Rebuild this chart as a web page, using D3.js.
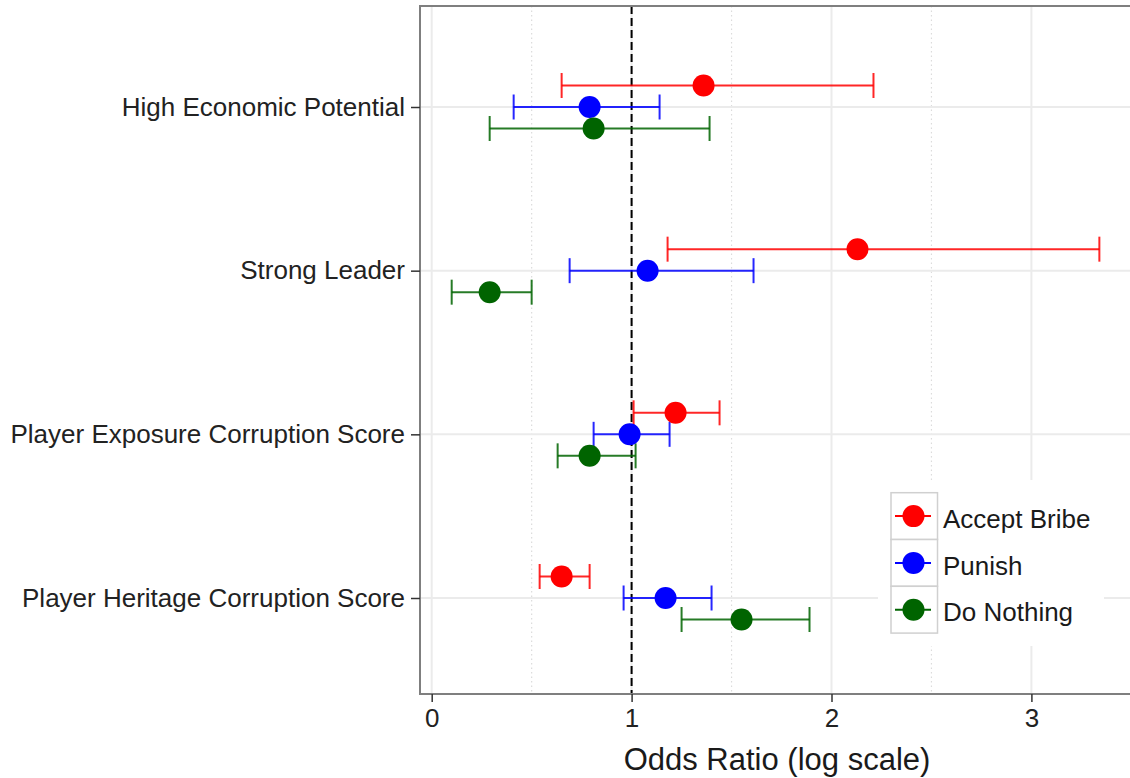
<!DOCTYPE html>
<html>
<head>
<meta charset="utf-8">
<script src="https://cdn.jsdelivr.net/npm/d3@7"></script>
<style>
  body { margin: 0; background: #fff; }
  text { font-family: "Liberation Sans", Arial, sans-serif; }
</style>
</head>
<body>
<svg width="1130" height="778"></svg>
<script>
// categories (top to bottom) and outcome series
const categories = ["High Economic Potential", "Strong Leader",
  "Player Exposure Corruption Score", "Player Heritage Corruption Score"];
const outcomes = ["Accept Bribe", "Punish", "Do Nothing"];
const outcomeColors = ["#ff0000", "#0000ff", "#006400"];

// odds ratios and confidence limits, one value per category
const acceptOR = [1.36, 2.13, 1.22, 0.65];
const acceptLo = [0.65, 1.18, 1.01, 0.54];
const acceptHi = [2.21, 3.34, 1.44, 0.79];

const punishOR = [0.79, 1.08, 0.99, 1.17];
const punishLo = [0.41, 0.69, 0.81, 0.96];
const punishHi = [1.14, 1.61, 1.19, 1.40];

const nothingOR = [0.81, 0.29, 0.79, 1.55];
const nothingLo = [0.29, 0.10, 0.63, 1.25];
const nothingHi = [1.39, 0.50, 1.02, 1.89];

const xTicks = [0, 1, 2, 3];
const xMinor = [0.5, 1.5, 2.5, 3.5];

// build rows
const series = [
  {name: outcomes[0], or: acceptOR, lo: acceptLo, hi: acceptHi},
  {name: outcomes[1], or: punishOR, lo: punishLo, hi: punishHi},
  {name: outcomes[2], or: nothingOR, lo: nothingLo, hi: nothingHi}
];
const rows = [];
series.forEach((s, si) => {
  categories.forEach((c, ci) => {
    rows.push({cat: c, outcome: s.name, idx: si, or: s.or[ci], lo: s.lo[ci], hi: s.hi[ci]});
  });
});

const svg = d3.select("svg");
const panel = {left: 420, top: 6, right: 1136, bottom: 694};

const x = d3.scaleLinear().domain([0, 3]).range([431.7, 1031.4]);
const y = d3.scalePoint().domain(categories).range([107, 598]);
const dodge = d3.scalePoint().domain(outcomes).range([-21.5, 21.5]);
const color = d3.scaleOrdinal().domain(outcomes).range(outcomeColors);

// panel background + grid
svg.append("rect")
  .attr("x", panel.left).attr("y", panel.top)
  .attr("width", panel.right - panel.left).attr("height", panel.bottom - panel.top)
  .attr("fill", "#fff");

svg.append("g").selectAll("line").data(xMinor).join("line")
  .attr("x1", d => x(d)).attr("x2", d => x(d))
  .attr("y1", panel.top).attr("y2", panel.bottom)
  .attr("stroke", "#dcdcdc").attr("stroke-width", 1.2)
  .attr("stroke-dasharray", "1.5,3");

svg.append("g").selectAll("line").data(xTicks).join("line")
  .attr("x1", d => x(d)).attr("x2", d => x(d))
  .attr("y1", panel.top).attr("y2", panel.bottom)
  .attr("stroke", "#ebebeb").attr("stroke-width", 2);

svg.append("g").selectAll("line").data(categories).join("line")
  .attr("x1", panel.left).attr("x2", panel.right)
  .attr("y1", d => y(d)).attr("y2", d => y(d))
  .attr("stroke", "#ebebeb").attr("stroke-width", 2);

// reference line at OR = 1
svg.append("line")
  .attr("x1", x(1)).attr("x2", x(1))
  .attr("y1", panel.top).attr("y2", panel.bottom)
  .attr("stroke", "#000").attr("stroke-width", 2)
  .attr("stroke-dasharray", "8,4");

// error bars
const bars = svg.append("g").selectAll("g").data(rows).join("g")
  .attr("stroke", d => color(d.outcome))
  .attr("stroke-width", 2)
  .attr("stroke-opacity", 0.85);
bars.append("line")
  .attr("x1", d => x(d.lo)).attr("x2", d => x(d.hi))
  .attr("y1", d => y(d.cat) + dodge(d.outcome))
  .attr("y2", d => y(d.cat) + dodge(d.outcome));
bars.append("line")
  .attr("x1", d => x(d.lo)).attr("x2", d => x(d.lo))
  .attr("y1", d => y(d.cat) + dodge(d.outcome) - 12.5)
  .attr("y2", d => y(d.cat) + dodge(d.outcome) + 12.5);
bars.append("line")
  .attr("x1", d => x(d.hi)).attr("x2", d => x(d.hi))
  .attr("y1", d => y(d.cat) + dodge(d.outcome) - 12.5)
  .attr("y2", d => y(d.cat) + dodge(d.outcome) + 12.5);

// points
svg.append("g").selectAll("circle").data(rows).join("circle")
  .attr("cx", d => x(d.or))
  .attr("cy", d => y(d.cat) + dodge(d.outcome))
  .attr("r", 11)
  .attr("fill", d => color(d.outcome));

// panel border
svg.append("rect")
  .attr("x", panel.left).attr("y", panel.top)
  .attr("width", panel.right - panel.left).attr("height", panel.bottom - panel.top)
  .attr("fill", "none").attr("stroke", "#7f7f7f").attr("stroke-width", 2);

// y axis
const yAxis = svg.append("g")
  .attr("transform", `translate(${panel.left},0)`)
  .call(d3.axisLeft(y).tickSize(9).tickPadding(6));
yAxis.select(".domain").remove();
yAxis.selectAll("line").attr("stroke", "#333").attr("stroke-width", 1.5);
yAxis.selectAll("text").attr("font-size", 26).attr("fill", "#222")
  .style("font-family", "'Liberation Sans', Arial, sans-serif");

// x axis
const xAxis = svg.append("g")
  .attr("transform", `translate(0,${panel.bottom})`)
  .call(d3.axisBottom(x).tickValues(xTicks).tickFormat(d3.format("d")).tickSize(8).tickPadding(7));
xAxis.select(".domain").remove();
xAxis.selectAll("line").attr("stroke", "#333").attr("stroke-width", 1.5);
xAxis.selectAll("text").attr("font-size", 26).attr("fill", "#222")
  .style("font-family", "'Liberation Sans', Arial, sans-serif");

svg.append("text")
  .attr("x", 777).attr("y", 770)
  .attr("text-anchor", "middle")
  .attr("font-size", 31).attr("fill", "#1a1a1a")
  .text("Odds Ratio (log scale)");

// legend
const legend = svg.append("g").attr("transform", "translate(878,480)");
legend.append("rect")
  .attr("width", 226).attr("height", 166).attr("fill", "#fff");
const keys = legend.selectAll("g").data(outcomes).join("g")
  .attr("transform", (d, i) => `translate(13,${12.7 + i * 46.8})`);
keys.append("rect")
  .attr("width", 46.5).attr("height", 46.8)
  .attr("fill", "#fff").attr("stroke", "#d0d0d0").attr("stroke-width", 1.5);
keys.append("line")
  .attr("x1", 4).attr("x2", 40).attr("y1", 23.4).attr("y2", 23.4)
  .attr("stroke", d => color(d)).attr("stroke-width", 2);
keys.append("circle")
  .attr("cx", 22.5).attr("cy", 23.4).attr("r", 11)
  .attr("fill", d => color(d));
keys.append("text")
  .attr("x", 52).attr("y", 26).attr("dy", "0.35em")
  .attr("font-size", 26).attr("fill", "#1a1a1a")
  .text(d => d);
</script>
</body>
</html>
